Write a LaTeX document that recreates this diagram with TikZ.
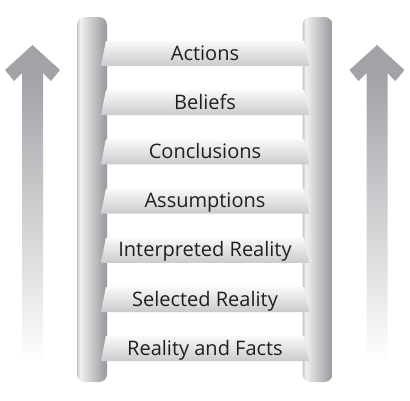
\documentclass[tikz,border=0pt]{standalone}
\usepackage{fontspec}
\setmainfont{Open Sans}
\usepackage{tikz}
\usetikzlibrary{shapes.geometric}

\definecolor{railedge}{RGB}{196,197,200}
\definecolor{raillight}{RGB}{241,241,242}
\definecolor{raildark}{RGB}{150,151,155}
\definecolor{rungtop}{RGB}{249,249,249}
\definecolor{rungbottom}{RGB}{202,203,205}
\definecolor{rungtext}{RGB}{35,31,32}
\definecolor{arrowgray}{RGB}{161,163,167}

\pgfdeclarehorizontalshading{railshade}{100bp}{
    color(0bp)=(railedge); color(25bp)=(railedge);
    color(30bp)=(raillight); color(75bp)=(raildark);
    color(100bp)=(raildark)}
\pgfdeclareverticalshading{arrowfade}{100bp}{
    color(0bp)=(white); color(25bp)=(white);
    color(70bp)=(arrowgray); color(100bp)=(arrowgray)}

\tikzset{
    rail/.style={
        rectangle,
        rounded corners=8pt,
        shade,
        shading=railshade,
        minimum width=30pt,
        minimum height=365pt,
        inner sep=0pt
    },
    rung/.style={
        trapezium,
        trapezium left angle=74,
        trapezium right angle=74,
        trapezium stretches body=true,
        top color=rungtop,
        bottom color=rungbottom,
        minimum width=208pt,
        minimum height=25pt,
        inner sep=0pt,
        text height=15pt,
        text depth=2pt,
        text=rungtext,
        font=\fontsize{20}{24}\selectfont
    },
    climb/.style={shade, shading=arrowfade}
}

\begin{document}
\begin{tikzpicture}[x=1pt, y=-1pt]

\useasboundingbox (0,0) rectangle (410,400);

\path[climb] (32.5,45) -- (5,70) -- (14,81) -- (22,73) -- (22,362)
    -- (43,362) -- (43,73) -- (51,81) -- (60,70) -- cycle;
\path[climb] (377,45) -- (349.5,70) -- (358.5,81) -- (366.5,73) -- (366.5,362)
    -- (387.5,362) -- (387.5,73) -- (395.5,81) -- (404.5,70) -- cycle;

\node[rail] (railL) at (92,199.5) {};
\node[rail] (railR) at (317.5,199.5) {};

\node[rung] (actions)     at (205,53.5)  {Actions};
\node[rung] (beliefs)     at (205,102.7) {Beliefs};
\node[rung] (conclusions) at (205,151.9) {Conclusions};
\node[rung] (assumptions) at (205,201.1) {Assumptions};
\node[rung] (interpreted) at (205,250.3) {Interpreted Reality};
\node[rung] (selected)    at (205,299.5) {Selected Reality};
\node[rung] (facts)       at (205,348.7) {Reality and Facts};

\end{tikzpicture}
\end{document}
